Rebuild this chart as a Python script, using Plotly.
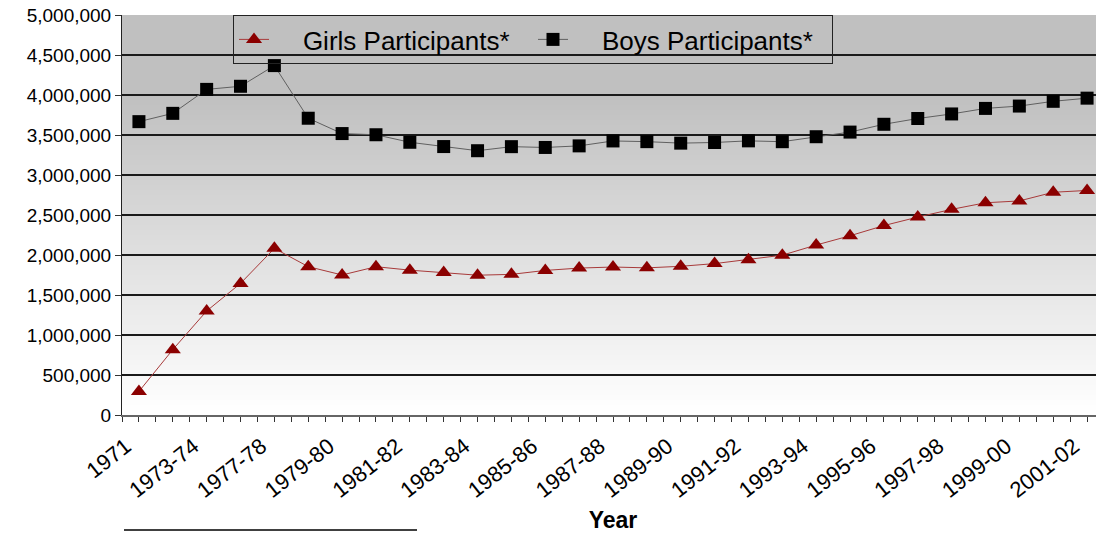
import plotly.graph_objects as go
import numpy as np

categories = ["1971", "1972-73", "1973-74", "1975-76", "1977-78", "1978-79", "1979-80",
              "1980-81", "1981-82", "1982-83", "1983-84", "1984-85", "1985-86", "1986-87",
              "1987-88", "1988-89", "1989-90", "1990-91", "1991-92", "1992-93", "1993-94",
              "1994-95", "1995-96", "1996-97", "1997-98", "1998-99", "1999-00", "2000-01",
              "2001-02"]
girls = [294015, 817073, 1300169, 1645039, 2083040, 1854400, 1750264, 1853789, 1810671,
         1779972, 1747346, 1757884, 1807121, 1836356, 1849684, 1839352, 1858659, 1892316,
         1940801, 1997489, 2124755, 2240461, 2367936, 2474043, 2570333, 2652726, 2675874,
         2784154, 2806998]
boys = [3666917, 3770621, 4070125, 4109021, 4367442, 3709512, 3517829, 3503124, 3409081,
        3355558, 3303599, 3354284, 3344275, 3364082, 3425777, 3416844, 3398192, 3406355,
        3426853, 3416389, 3478530, 3536359, 3634052, 3706225, 3763120, 3832352, 3861749,
        3921069, 3960517]
y_ticks = list(range(0, 5000001, 500000))

n = len(categories)
x = list(range(n))
pad = "\u00a0" * 4

W, H = 1104, 533
L, R, T, B = 122, 0, 15, 118
pw = W - L - R
ph = H - T - B

def px(xp):
    return (xp - L) / pw

def py(yp):
    return (H - B - yp) / ph

fig = go.Figure()
fig.add_trace(go.Scatter(
    x=x, y=girls, name=pad + "Girls Participants*", mode="lines+markers",
    line=dict(color="#a83a3a", width=1),
    marker=dict(symbol="triangle-up", size=14, color="#8b0000", line=dict(width=0)),
))
fig.add_trace(go.Scatter(
    x=x, y=boys, name=pad + "Boys Participants*", mode="lines+markers",
    line=dict(color="#606060", width=1),
    marker=dict(symbol="square", size=13, color="#000000", line=dict(width=0)),
))

# gradient background
shapes = []
top_gray = 192
nb = 80
for i in range(nb):
    y0 = 5000000 * i / nb
    y1 = 5000000 * (i + 1) / nb
    ymid = (y0 + y1) / 2
    if ymid >= 4000000:
        c = top_gray
    else:
        f = ymid / 4000000
        c = int(round(255 - (255 - top_gray) * f))
    shapes.append(dict(type="rect", xref="x", yref="y", x0=-0.5, x1=n - 0.5, y0=y0, y1=y1,
                       fillcolor=f"rgb({c},{c},{c})", line=dict(width=0), layer="below"))
# white upper part of legend
shapes.append(dict(type="rect", xref="paper", yref="paper", x0=px(233), x1=px(831),
                   y0=py(34), y1=1, fillcolor="white", line=dict(width=0), layer="below"))
# footnote underline
shapes.append(dict(type="line", xref="paper", yref="paper", x0=px(124), x1=px(417),
                   y0=py(530), y1=py(530), line=dict(color="black", width=1.5)))

tickvals = [i for i in range(0, n, 2)]
ticktext = [categories[i] for i in tickvals]

fig.update_layout(
    width=W, height=H,
    margin=dict(l=L, r=R, t=T, b=B),
    paper_bgcolor="white", plot_bgcolor="white",
    font=dict(family="Arial, 'Liberation Sans', sans-serif", color="black"),
    shapes=shapes,
    showlegend=True,
    legend=dict(orientation="h", x=px(233), y=1, xanchor="left", yanchor="top",
                bgcolor="rgba(0,0,0,0)", bordercolor="#222222", borderwidth=1,
                font=dict(size=26), entrywidth=254, entrywidthmode="pixels",
                tracegroupgap=0),
    xaxis=dict(
        range=[-0.5, n - 0.5], tickmode="array", tickvals=tickvals, ticktext=ticktext,
        tickangle=-38, tickfont=dict(size=22), showgrid=False, zeroline=False,
        showline=True, linecolor="#666666", linewidth=2, automargin=False,
        ticks="outside", ticklen=5, tickcolor="#333333",
        ticklabelshift=-13, ticklabelstandoff=3,
        minor=dict(ticks="outside", ticklen=5, tickcolor="#333333", dtick=0.5, tick0=-0.5, showgrid=False),
        title=dict(text="<b>Year</b>", font=dict(size=23), standoff=12),
    ),
    yaxis=dict(
        range=[0, 5000000], tickmode="array", tickvals=y_ticks, automargin=False,
        ticktext=[f"{v:,}" for v in y_ticks], tickfont=dict(size=19),
        showgrid=True, gridcolor="#1a1a1a", gridwidth=1.5, zeroline=False,
        showline=True, linecolor="#222222", linewidth=1,
        ticks="outside", ticklen=6, tickcolor="#333333",
    ),
)

fig.write_html("out.html", config={"displayModeBar": False},
               post_script="document.body.style.margin='0';document.body.style.overflow='hidden';")
